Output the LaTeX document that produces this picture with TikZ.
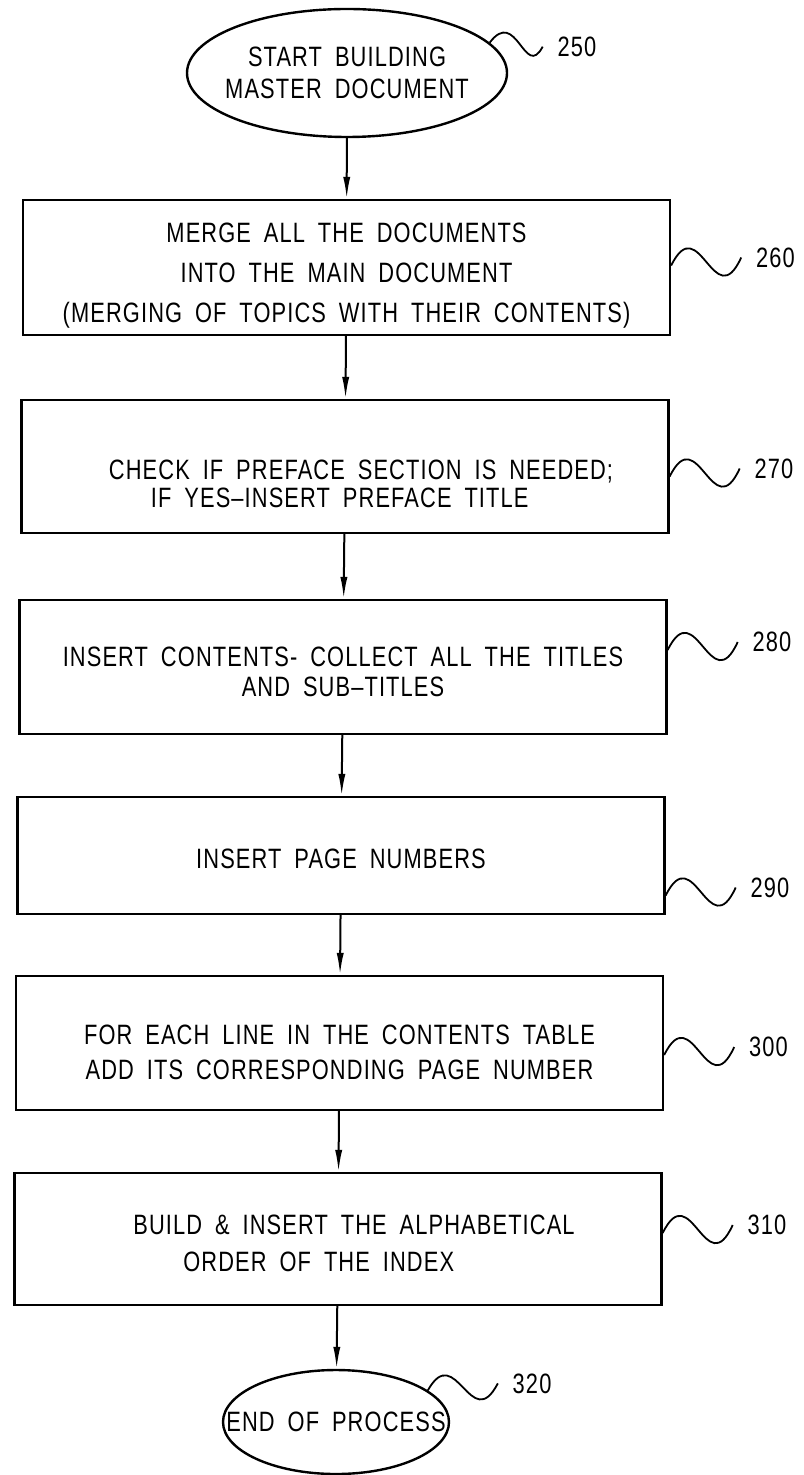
\documentclass[tikz,border=0pt]{standalone}
\usepackage{fontspec}
\setmainfont{Liberation Sans}[FakeStretch=0.78,LetterSpace=4,WordSpace=1.8]
\usetikzlibrary{shapes.geometric,arrows.meta}
\newcommand\lettering[1]{\fontsize{14pt}{#1}\selectfont}
\begin{document}
\begin{tikzpicture}[x=0.5pt,y=-0.5pt,>={Latex[length=11pt,width=3.6pt]}]
\tikzset{stepbox/.style={draw,line width=1.2pt,rectangle,minimum width=323.5pt,align=center,inner sep=0pt},
  terminal/.style={draw,line width=1.2pt,ellipse,align=center,inner ysep=0pt},
  flow/.style={->,line width=1pt},
  lead/.style={line width=0.9pt},
  refnum/.style={anchor=west,inner sep=0pt,xshift=7pt,font=\lettering{17pt}}}
\useasboundingbox (0,0) rectangle (803,1475);
% start / end of the process
\node[terminal,minimum width=160pt,minimum height=64pt,inner xsep=-6pt,font=\lettering{16pt}] (start) at (347,73) {START BUILDING\\MASTER DOCUMENT};
\node[terminal,minimum width=113pt,minimum height=52pt,inner xsep=-17pt,font=\lettering{17pt}] (finish) at (336,1422) {END OF PROCESS};
% steps
\node[stepbox,minimum height=67.5pt,text height=58pt,font=\lettering{20pt}] (merge) at (346.5,267.5) {MERGE ALL THE DOCUMENTS\\INTO THE MAIN DOCUMENT\\(MERGING OF TOPICS WITH THEIR CONTENTS)};
\node[stepbox,minimum height=66.5pt,align=left,text height=41pt,font=\lettering{14pt}] (preface) at (345,466.5) {\hspace*{16pt}CHECK IF PREFACE SECTION IS NEEDED;\\\hspace*{37pt}IF YES\textendash INSERT PREFACE TITLE};
\node[stepbox,minimum height=67pt,text height=30pt,font=\lettering{15pt}] (contents) at (343,667) {INSERT CONTENTS- COLLECT ALL THE TITLES\\AND SUB\textendash TITLES};
\node[stepbox,minimum height=58.5pt,text height=13pt,font=\lettering{17pt}] (pages) at (341,855.5) {INSERT PAGE NUMBERS};
\node[stepbox,minimum height=67pt,text height=37pt,font=\lettering{17.5pt}] (lines) at (339.5,1043) {FOR EACH LINE IN THE CONTENTS TABLE\\ADD ITS CORRESPONDING PAGE NUMBER};
\node[stepbox,minimum height=66pt,align=left,text height=33pt,font=\lettering{18.5pt}] (index) at (338,1239) {\hspace*{16pt}BUILD \& INSERT THE ALPHABETICAL\\\hspace*{41pt}ORDER OF THE INDEX};
% arrows
\draw[flow] (start) -- (merge);
\draw[flow] (merge) -- (preface);
\draw[flow] (preface) -- (contents);
\draw[flow] (contents) -- (pages);
\draw[flow] (pages) -- (lines);
\draw[flow] (lines) -- (index);
\draw[flow] (index) -- (finish);
% reference numerals
\begin{scope}[shift={(start.12)}]
\draw[lead] (0,0) .. controls (27,-36) and (35,38) .. (53,4) node[refnum] (n250) {250};
\end{scope}
\foreach \b/\dy/\num in {merge/-2/260,preface/10/270,contents/-17/280,pages/40/290,lines/12/300,index/-6/310}{
\begin{scope}[shift={(\b.east)}]
\draw[lead] (0,\dy) .. controls (28,\dy-57) and (43,\dy+51) .. (70,\dy-8) node[refnum] (n\num) {\num};
\end{scope}
}
\begin{scope}[shift={(finish.19)}]
\draw[lead] (0,0) .. controls (28,-50) and (43,45) .. (70,-7) node[refnum] (n320) {320};
\end{scope}
\end{tikzpicture}
\end{document}
